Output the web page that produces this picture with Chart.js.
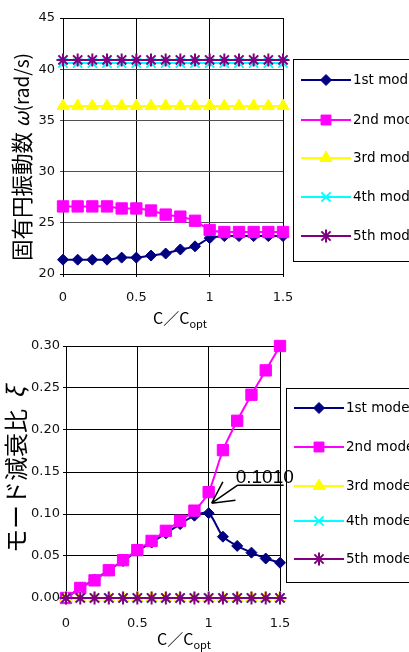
<!DOCTYPE html>
<html>
<head>
<meta charset="utf-8">
<script src="https://cdn.jsdelivr.net/npm/chart.js@4.4.0/dist/chart.umd.min.js"></script>
<style>
html, body { margin: 0; padding: 0; background: #fff; }
#wrap { position: relative; width: 409px; height: 652px; overflow: hidden; }
canvas { position: absolute; left: 0; }
</style>
</head>
<body>
<div id="wrap">
  <canvas id="freq" width="409" height="330" style="top:0"></canvas>
  <canvas id="damp" width="409" height="322" style="top:330px"></canvas>
</div>
<script>
// C/Copt
var ratio = [0, 0.1, 0.2, 0.3, 0.4, 0.5, 0.6, 0.7, 0.8, 0.9, 1.0, 1.1, 1.2, 1.3, 1.4, 1.5];
var modeNames = ["1st mode", "2nd mode", "3rd mode", "4th mode", "5th mode"];

// natural circular frequency (rad/s)
var freq1 = [21.4, 21.4, 21.4, 21.4, 21.6, 21.6, 21.8, 22.0, 22.4, 22.7, 23.5, 23.7, 23.7, 23.7, 23.7, 23.7];
var freq2 = [26.6, 26.6, 26.6, 26.6, 26.4, 26.4, 26.2, 25.8, 25.6, 25.2, 24.3, 24.1, 24.1, 24.1, 24.1, 24.1];
var freq3 = [36.4, 36.4, 36.4, 36.4, 36.4, 36.4, 36.4, 36.4, 36.4, 36.4, 36.4, 36.4, 36.4, 36.4, 36.4, 36.4];
var freq4 = [40.6, 40.6, 40.6, 40.6, 40.6, 40.6, 40.6, 40.6, 40.6, 40.6, 40.6, 40.6, 40.6, 40.6, 40.6, 40.6];
var freq5 = [40.9, 40.9, 40.9, 40.9, 40.9, 40.9, 40.9, 40.9, 40.9, 40.9, 40.9, 40.9, 40.9, 40.9, 40.9, 40.9];

// modal damping ratio
var damp1 = [0, 0.012, 0.022, 0.033, 0.044, 0.056, 0.066, 0.077, 0.088, 0.098, 0.101, 0.073, 0.062, 0.054, 0.047, 0.042];
var damp2 = [0, 0.012, 0.021, 0.033, 0.045, 0.057, 0.068, 0.080, 0.092, 0.104, 0.126, 0.176, 0.211, 0.242, 0.271, 0.300];
var damp3 = [0, 0, 0, 0, 0, 0, 0, 0, 0, 0, 0, 0, 0, 0, 0, 0];
var damp4 = [0, 0, 0, 0, 0, 0, 0, 0, 0, 0, 0, 0, 0, 0, 0, 0];
var damp5 = [0, 0, 0, 0, 0, 0, 0, 0, 0, 0, 0, 0, 0, 0, 0, 0];

var peakLabel = "0.1010";
var peakX = 1.0, peakY = 0.101;

var xTicks = [0, 0.5, 1, 1.5];
var freqTicks = [20, 25, 30, 35, 40, 45];
var dampTicks = [0, 0.05, 0.10, 0.15, 0.20, 0.25, 0.30];

var styles = [
  { color: "#000080", point: "rectRot", r: 5.5, bw: 1 },
  { color: "#ff00ff", point: "rect", r: 8, bw: 1 },
  { color: "#ffff00", point: "triangle", r: 7, bw: 1 },
  { color: "#00ffff", point: "crossRot", r: 6.5, bw: 2 },
  { color: "#800080", point: "star", r: 6.5, bw: 2 }
];

function makeSets(series) {
  return series.map(function (vals, i) {
    var s = styles[i];
    return {
      label: modeNames[i],
      data: vals.map(function (v, k) { return { x: ratio[k], y: v }; }),
      borderColor: s.color,
      backgroundColor: s.color,
      pointBackgroundColor: s.color,
      pointBorderColor: s.color,
      pointStyle: s.point,
      pointRadius: s.r,
      pointBorderWidth: s.bw,
      borderWidth: 2,
      tension: 0.25,
      clip: false,
      order: 5 - i
    };
  });
}

function drawRun(ctx, pieces, x, y) {
  var total = 0;
  pieces.forEach(function (p) { ctx.font = p.font; total += ctx.measureText(p.text).width; });
  var cx = x - total / 2;
  pieces.forEach(function (p) {
    ctx.font = p.font;
    ctx.fillText(p.text, cx, y + (p.dy || 0));
    cx += ctx.measureText(p.text).width;
  });
}

function drawLegend(chart, box) {
  var ctx = chart.ctx;
  ctx.save();
  ctx.fillStyle = "#fff";
  ctx.fillRect(box.x, box.y, box.w, box.h);
  ctx.strokeStyle = "#000";
  ctx.lineWidth = 1;
  ctx.strokeRect(box.x + 0.5, box.y + 0.5, box.w, box.h);
  chart.data.datasets.forEach(function (ds, i) {
    var y = box.rows[i];
    ctx.strokeStyle = ds.borderColor;
    ctx.lineWidth = 2;
    ctx.beginPath();
    ctx.moveTo(box.x + 8, y);
    ctx.lineTo(box.x + 58, y);
    ctx.stroke();
    ctx.fillStyle = ds.pointBackgroundColor;
    ctx.strokeStyle = ds.pointBorderColor;
    ctx.lineWidth = ds.pointBorderWidth;
    var r = ds.pointStyle === "rect" ? 7 : ds.pointRadius;
    Chart.helpers.drawPoint(ctx, { pointStyle: ds.pointStyle, radius: r, rotation: 0, borderWidth: ds.pointBorderWidth }, box.x + 33, y);
    ctx.fillStyle = "#000";
    ctx.font = '13.5px "DejaVu Sans"';
    ctx.textAlign = "left";
    ctx.textBaseline = "middle";
    ctx.fillText(ds.label, box.x + 60, y);
  });
  ctx.restore();
}

function makeChart(id, sets, yMin, yMax, yTicks, yFmt, lay) {
  var extras = {
    id: "extras",
    afterDraw: function (chart) {
      var ctx = chart.ctx;
      drawLegend(chart, lay.legend);
      ctx.save();
      ctx.fillStyle = "#000";
      ctx.textBaseline = "alphabetic";
      ctx.textAlign = "left";
      // x title with subscript
      ctx.font = '16px "Noto Sans CJK JP"';
      ctx.fillText("C／C", lay.xTitle[0], lay.xTitle[1]);
      var w = ctx.measureText("C／C").width;
      ctx.font = '11px "Noto Sans CJK JP"';
      ctx.fillText("opt", lay.xTitle[0] + w, lay.xTitle[1] + 4);
      // y title rotated
      ctx.translate(lay.yTitle[0], lay.yTitle[1]);
      ctx.rotate(-Math.PI / 2);
      ctx.textBaseline = "middle";
      drawRun(ctx, lay.yTitlePieces, 0, 0);
      ctx.restore();
      if (lay.after) lay.after(chart);
    }
  };
  return new Chart(document.getElementById(id), {
    type: "line",
    data: { datasets: sets },
    plugins: [extras],
    options: {
      responsive: false,
      animation: false,
      devicePixelRatio: 1,
      layout: { padding: { left: 0, right: lay.right, top: lay.top, bottom: 0 } },
      plugins: { legend: { display: false }, tooltip: { enabled: false } },
      scales: {
        x: {
          type: "linear",
          min: 0, max: 1.5,
          afterBuildTicks: function (s) { s.ticks = xTicks.map(function (v) { return { value: v }; }); },
          afterFit: function (s) { s.height = lay.xH; },
          grid: { color: "#000", lineWidth: 1, tickLength: 3 },
          border: { color: "#000" },
          ticks: {
            padding: lay.xPad,
            color: "#111",
            font: { family: "DejaVu Sans", size: 13 },
            maxRotation: 0,
            callback: function (v) { return String(v); }
          }
        },
        y: {
          min: yMin, max: yMax,
          afterBuildTicks: function (s) { s.ticks = yTicks.map(function (v) { return { value: v }; }); },
          afterFit: function (s) { s.width = lay.yW; },
          grid: {
            color: function (c) {
              var v = c.tick ? c.tick.value : 0;
              return (v === yMin || v === yMax) ? "#000" : lay.hGrid;
            },
            lineWidth: 1, tickLength: 3
          },
          border: { color: "#000" },
          ticks: {
            padding: lay.yPad,
            color: "#111",
            font: { family: "DejaVu Sans", size: 13 },
            callback: yFmt
          }
        }
      }
    }
  });
}

makeChart("freq", makeSets([freq1, freq2, freq3, freq4, freq5]), 20, 45, freqTicks,
  function (v) { return String(v); },
  {
    right: 126, top: 18, xH: 56, yW: 63, xPad: 13, yPad: 5, hGrid: "#505050",
    legend: { x: 293, y: 59, w: 200, h: 202, rows: [80, 120, 158, 197, 236] },
    xTitle: [153, 324],
    yTitle: [21.5, 157],
    yTitlePieces: [
      { text: "固有円振動数 ", font: '21.5px "Noto Sans CJK JP"' },
      { text: "ω", font: 'italic 20px "Noto Sans CJK JP"' },
      { text: "(rad/s)", font: '19px "Noto Sans CJK JP"' }
    ]
  });

makeChart("damp", makeSets([damp1, damp2, damp3, damp4, damp5]), 0, 0.30, dampTicks,
  function (v) { return v.toFixed(2); },
  {
    right: 129, top: 16, xH: 54, yW: 66, xPad: 15, yPad: 3, hGrid: "#000",
    legend: { x: 286, y: 58, w: 200, h: 194, rows: [78, 117, 156, 191, 229] },
    xTitle: [157, 315],
    yTitle: [15.5, 140],
    yTitlePieces: [
      { text: "モード減衰比  ", font: '24px "Noto Sans CJK JP"' },
      { text: "ξ", font: 'italic 23px "Noto Sans CJK JP"' }
    ],
    after: function (chart) {
      var ctx = chart.ctx;
      var px = chart.scales.x.getPixelForValue(peakX);
      var py = chart.scales.y.getPixelForValue(peakY);
      var tipX = px + 3, tipY = py - 10;
      var sx = px + 29, sy = py - 28;
      ctx.save();
      ctx.strokeStyle = "#000";
      ctx.lineWidth = 1.5;
      ctx.beginPath();
      ctx.moveTo(sx, sy);
      ctx.lineTo(tipX, tipY);
      var ang = Math.atan2(tipY - sy, tipX - sx);
      var len = 24;
      [0.48, -0.48].forEach(function (d) {
        ctx.moveTo(tipX, tipY);
        ctx.lineTo(tipX - len * Math.cos(ang + d), tipY - len * Math.sin(ang + d));
      });
      ctx.moveTo(sx, sy);
      ctx.lineTo(sx + 46, sy);
      ctx.stroke();
      ctx.fillStyle = "#000";
      ctx.font = '19px "Liberation Sans"';
      ctx.textBaseline = "alphabetic";
      ctx.textAlign = "left";
      ctx.fillText(peakLabel, sx - 2, sy - 2);
      ctx.restore();
    }
  });
</script>
</body>
</html>
